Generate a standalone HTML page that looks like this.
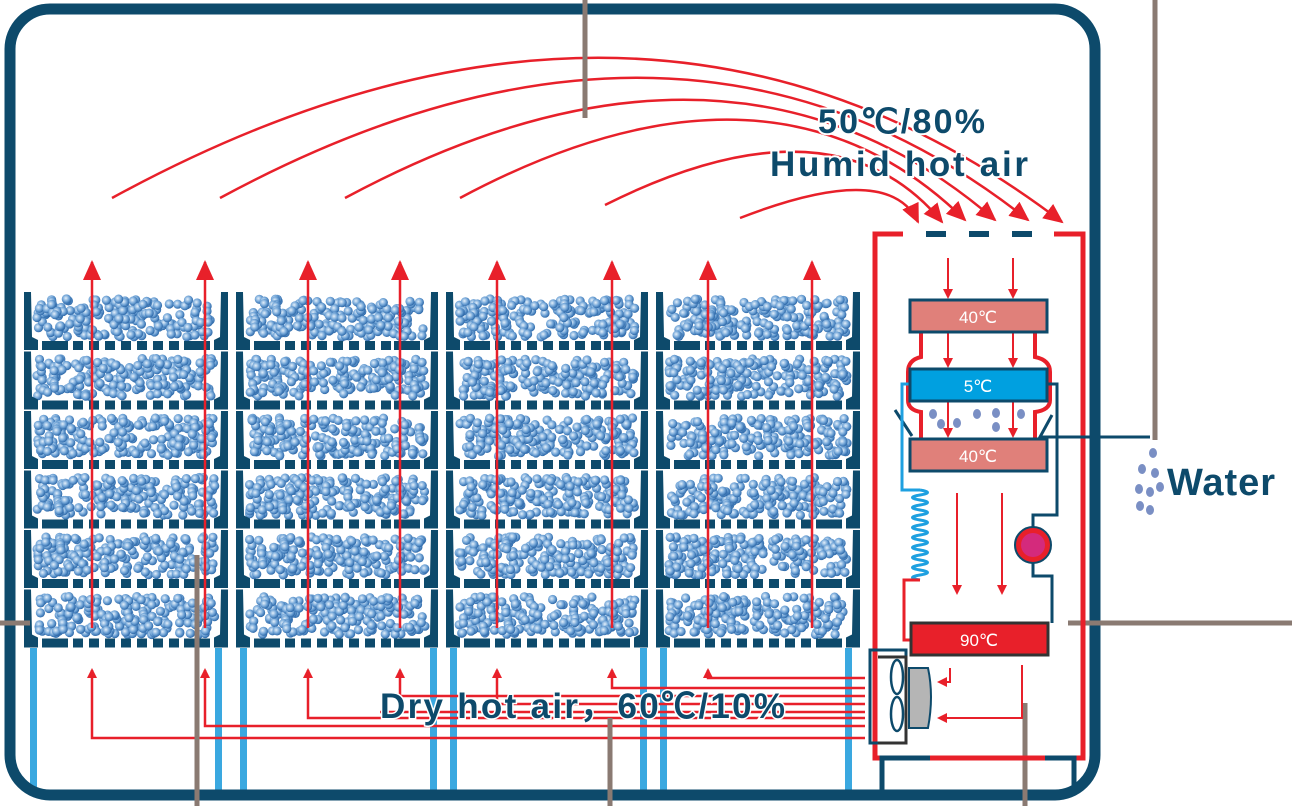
<!DOCTYPE html>
<html><head><meta charset="utf-8"><style>
html,body{margin:0;padding:0;background:#fff;}
svg{display:block}
text{font-family:"Liberation Sans",sans-serif}
</style></head><body>
<svg id="s" width="1292" height="806" viewBox="0 0 1292 806" xmlns="http://www.w3.org/2000/svg">
<defs>
<radialGradient id="pg" cx="0.4" cy="0.4" r="0.6">
<stop offset="0" stop-color="#e4f0fb"/><stop offset="0.6" stop-color="#6fa3d6"/><stop offset="1" stop-color="#2f6aaa"/>
</radialGradient>
<marker id="ah" markerWidth="10" markerHeight="10" refX="8" refY="5" orient="auto" markerUnits="userSpaceOnUse" viewBox="0 0 10 10">
<path d="M0,0 L10,5 L0,10 Z" fill="#e8202a"/></marker>
<marker id="ahb" markerWidth="20" markerHeight="18" refX="18" refY="9" orient="auto" markerUnits="userSpaceOnUse" viewBox="0 0 20 18">
<path d="M0,0 L20,9 L0,18 Z" fill="#e8202a"/></marker>
</defs>
<g id="g"></g>
</svg>
<script>
var g=document.getElementById('g'),h='';
function A(s){h+=s;}
var D='#0d4a6b',R='#e8202a',B='#3aa8e0',G='#8a7a72';
[30,215,240,430,450,640,660,845].forEach(function(x){A('<rect x="'+x+'" y="648" width="7" height="145" fill="'+B+'"/>');});
var racks=[[24,228],[236,438],[446,648],[656,860]];
var seed=7;function rnd(){seed=(seed*9301+49297)%233280;return seed/233280;}
racks.forEach(function(r){
 var x0=r[0],x1=r[1];
 for(var i=0;i<6;i++){
  var t=292+i*59.5;
  for(var k=0;k<190;k++){
   var cx=x0+13+rnd()*(x1-x0-26),cy=t+7+rnd()*38;
   A('<circle cx="'+cx.toFixed(1)+'" cy="'+cy.toFixed(1)+'" r="4.6" fill="url(#pg)"/>');
  }
  A('<polygon points="'+x0+','+t+' '+(x0+7)+','+t+' '+(x0+8)+','+(t+45)+' '+(x0+14)+','+(t+48)+' '+(x0+14)+','+(t+58)+' '+x0+','+(t+58)+'" fill="'+D+'"/>');
  A('<polygon points="'+x1+','+t+' '+(x1-7)+','+t+' '+(x1-8)+','+(t+45)+' '+(x1-14)+','+(t+48)+' '+(x1-14)+','+(t+58)+' '+x1+','+(t+58)+'" fill="'+D+'"/>');
  var y=t+49,s=x0+18,e=x1-18;
  A('<rect x="'+s+'" y="'+y+'" width="26" height="9" fill="'+D+'"/>');
  A('<rect x="'+(e-26)+'" y="'+y+'" width="26" height="9" fill="'+D+'"/>');
  for(var xx=s+31;xx<e-36;xx+=16){A('<rect x="'+xx+'" y="'+y+'" width="10" height="9" fill="'+D+'"/>');}
 }
});
[92,205,308,400,497,612,708,812].forEach(function(x){
 A('<line x1="'+x+'" y1="628" x2="'+x+'" y2="262" stroke="'+R+'" stroke-width="2.5" marker-end="url(#ahb)"/>');
});
A('<path d="M865,678 H708 V670" fill="none" stroke="'+R+'" stroke-width="2.5" marker-end="url(#ah)"/>');
A('<path d="M865,688 H612 V670" fill="none" stroke="'+R+'" stroke-width="2.5" marker-end="url(#ah)"/>');
A('<path d="M865,696 H400 V670" fill="none" stroke="'+R+'" stroke-width="2.5" marker-end="url(#ah)"/>');
A('<path d="M865,718 H308 V670" fill="none" stroke="'+R+'" stroke-width="2.5" marker-end="url(#ah)"/>');
A('<path d="M865,704 H497 V670" fill="none" stroke="'+R+'" stroke-width="2.5" marker-end="url(#ah)"/>');
A('<path d="M865,726 H205 V670" fill="none" stroke="'+R+'" stroke-width="2.5" marker-end="url(#ah)"/>');
A('<path d="M865,738 H92 V670" fill="none" stroke="'+R+'" stroke-width="2.5" marker-end="url(#ah)"/>');
A('<line x1="380" y1="712" x2="865" y2="712" stroke="'+R+'" stroke-width="2.5"/>');
// arcs: [x0,y0,x1,y1,peakY]
var arcs=[[112,198,1062,222,58],[220,198,1028,220,78],[345,198,995,220,100],[460,198,965,220,120],[605,205,942,222,152],[740,218,918,222,190]];
arcs.forEach(function(a){
 var cy=(4*a[4]-a[1]-a[3])/2, cx=(a[0]+a[2])/2+60;
 A('<path d="M'+a[0]+','+a[1]+' Q'+cx+','+cy+' '+a[2]+','+a[3]+'" fill="none" stroke="'+R+'" stroke-width="2.5" marker-end="url(#ahb)"/>');
});
A('<rect x="10" y="9" width="1085" height="786" rx="40" fill="none" stroke="'+D+'" stroke-width="11"/>');
A('<g stroke="'+G+'" stroke-width="5"><line x1="585" y1="0" x2="585" y2="118"/><line x1="1155" y1="0" x2="1155" y2="440"/><line x1="0" y1="623" x2="30" y2="623"/><line x1="1068" y1="623" x2="1292" y2="623"/><line x1="197" y1="555" x2="197" y2="806"/><line x1="610" y1="718" x2="610" y2="806"/><line x1="1025" y1="703" x2="1025" y2="806"/></g>');
A('<path d="M903,234 H875 V758 H1083 V234 H1054" fill="none" stroke="'+R+'" stroke-width="5"/>');
[926,969,1012].forEach(function(x){A('<rect x="'+x+'" y="231" width="20" height="6" fill="'+D+'"/>');});
A('<path d="M882,790 V758 H930 M1045,758 H1074 V790" fill="none" stroke="'+D+'" stroke-width="5"/>');
[948,1013].forEach(function(x){
 A('<line x1="'+x+'" y1="258" x2="'+x+'" y2="297" stroke="'+R+'" stroke-width="2" marker-end="url(#ah)"/>');
 A('<line x1="'+x+'" y1="333" x2="'+x+'" y2="366" stroke="'+R+'" stroke-width="2" marker-end="url(#ah)"/>');
 A('<line x1="'+x+'" y1="402" x2="'+x+'" y2="436" stroke="'+R+'" stroke-width="2" marker-end="url(#ah)"/>');
});
[957,1002].forEach(function(x){A('<line x1="'+x+'" y1="493" x2="'+x+'" y2="593" stroke="'+R+'" stroke-width="2" marker-end="url(#ah)"/>');});
A('<path d="M921,333 V357 Q908,360 908,372 V400 Q908,410 921,412 V438" fill="none" stroke="'+R+'" stroke-width="4"/>');
A('<path d="M1035,333 V357 Q1050,360 1050,372 V400 Q1050,410 1035,412 V438" fill="none" stroke="'+R+'" stroke-width="4"/>');
[[933,414],[941,424],[957,423],[977,414],[996,413],[996,427],[1021,414]].forEach(function(p){A('<ellipse cx="'+p[0]+'" cy="'+p[1]+'" rx="4" ry="5" fill="#7a8fc4"/>');});
A('<path d="M895,410 L912,436 M1052,415 L1040,437 L1150,437" fill="none" stroke="'+D+'" stroke-width="3"/>');
A('<path d="M1048,384 H1057 V515 H1033 V528 M1033,563 V576 H1052 V623" fill="none" stroke="'+D+'" stroke-width="3"/>');
A('<circle cx="1033" cy="545" r="18" fill="'+R+'" stroke="'+D+'" stroke-width="2"/><circle cx="1033" cy="545" r="12" fill="#d42a7c"/>');
A('<path d="M910,384 H902 V490 H920" fill="none" stroke="#1ea0e0" stroke-width="3"/>');
var cp='M920,490';for(var j=0;j<9;j++){var y=490+j*10;cp+=' Q935,'+(y+2.5)+' 920,'+(y+5)+' Q905,'+(y+7.5)+' 920,'+(y+10);}
A('<path d="'+cp+'" fill="none" stroke="#1ea0e0" stroke-width="3"/>');
A('<path d="M920,580 H904 V640 H912" fill="none" stroke="'+R+'" stroke-width="3"/>');
function box(y,fill,st,t,x){A('<rect x="'+(x||910)+'" y="'+y+'" width="137" height="32" fill="'+fill+'" stroke="'+st+'" stroke-width="3"/><text x="'+((x||910)+68)+'" y="'+(y+23)+'" fill="#fff" font-size="17" text-anchor="middle" font-family="Liberation Serif,serif">'+t+'</text>');}
box(300,'#e0807a',D,'40℃');box(369,'#00a0e0',D,'5℃');box(439,'#e0807a',D,'40℃');box(623,R,'#333','90℃',911);
A('<rect x="870" y="650" width="36" height="93" fill="none" stroke="'+D+'" stroke-width="3"/>');
A('<path d="M878,657 H906 V743 H878" fill="none" stroke="#333" stroke-width="3"/>');
A('<ellipse cx="897" cy="677" rx="6" ry="17" fill="none" stroke="'+D+'" stroke-width="2.5"/><ellipse cx="897" cy="714" rx="6" ry="17" fill="none" stroke="'+D+'" stroke-width="2.5"/>');
A('<path d="M909,668 H928 Q934,696 928,728 H909 Z" fill="#b5b5b5" stroke="'+D+'" stroke-width="2"/>');
A('<path d="M950,668 V682 H939" fill="none" stroke="'+R+'" stroke-width="2" marker-end="url(#ah)"/>');
A('<path d="M1022,665 V718 H939" fill="none" stroke="'+R+'" stroke-width="2" marker-end="url(#ah)"/>');
[[1153,453],[1142,469],[1155,473],[1139,489],[1150,492],[1160,487],[1140,506],[1150,510]].forEach(function(p){A('<ellipse cx="'+p[0]+'" cy="'+p[1]+'" rx="4" ry="5" fill="#7a8fc4"/>');});
A('<text x="1167" y="495" font-size="38" font-weight="bold" fill="'+D+'" textLength="108">Water</text>');
A('<text x="818" y="133" font-size="34" font-weight="bold" fill="'+D+'" stroke="#fff" stroke-width="4" paint-order="stroke" textLength="167">50℃/80%</text>');
A('<text x="770" y="176" font-size="35" font-weight="bold" fill="'+D+'" stroke="#fff" stroke-width="4" paint-order="stroke" textLength="258">Humid hot air</text>');
A('<text x="380" y="718" font-size="35" font-weight="bold" fill="'+D+'" stroke="#fff" stroke-width="3" paint-order="stroke" textLength="405">Dry hot air，60℃/10%</text>');
g.innerHTML=h;
</script>
</body></html>
